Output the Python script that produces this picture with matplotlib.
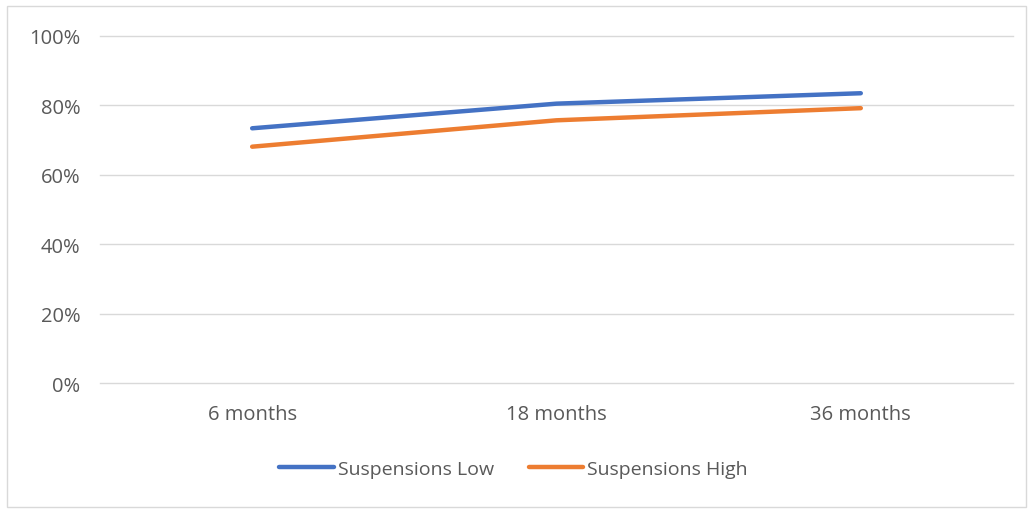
import matplotlib.pyplot as plt
from matplotlib.patches import Rectangle
from matplotlib.ticker import PercentFormatter

plt.rcParams['font.family'] = ['Open Sans', 'DejaVu Sans']

categories = ['6 months', '18 months', '36 months']
susp_low = [0.734, 0.805, 0.835]
susp_high = [0.681, 0.757, 0.792]

fig = plt.figure(figsize=(10.33, 5.10), dpi=100)
ax = fig.add_axes([0.0968, 0.247, 0.8838, 0.6805])

x = range(len(categories))
ax.plot(x, susp_low, color='#4472C4', lw=3.2, solid_capstyle='round', label='Suspensions Low')
ax.plot(x, susp_high, color='#ED7D31', lw=3.2, solid_capstyle='round', label='Suspensions High')

ax.set_xlim(-0.5, 2.5)
ax.set_ylim(0, 1)
ax.set_yticks([0, 0.2, 0.4, 0.6, 0.8, 1.0])
ax.yaxis.set_major_formatter(PercentFormatter(1.0, decimals=0))
ax.set_xticks(list(x))
ax.set_xticklabels(categories)
ax.grid(axis='y', color='#D9D9D9', lw=1)
for gl in ax.get_ygridlines():
    gl.set_clip_on(False)
ax.set_axisbelow(True)
for s in ax.spines.values():
    s.set_visible(False)
ax.tick_params(length=0, labelsize=14.5, labelcolor='#595959')
ax.tick_params(axis='y', pad=14)
ax.tick_params(axis='x', pad=15)

fig.legend(loc='center', bbox_to_anchor=(0.497, 0.078), ncol=2, frameon=False,
           fontsize=14, labelcolor='#595959', handlelength=2.8,
           handletextpad=0.2, columnspacing=1.8)

# outer frame
fig.patches.append(Rectangle((0.007, 0.004), 0.986, 0.982, transform=fig.transFigure,
                             fill=False, edgecolor='#D9D9D9', lw=1))

fig.savefig('out.png', dpi=100)
